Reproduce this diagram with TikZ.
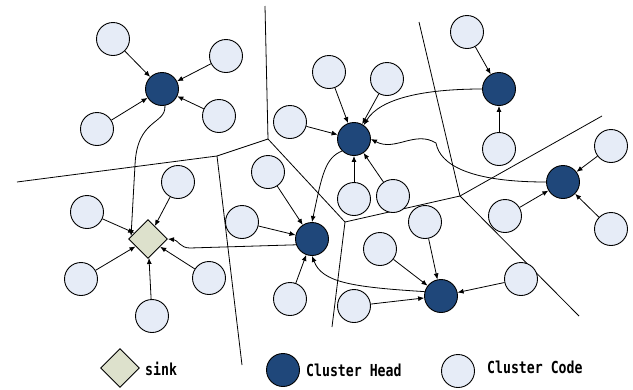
\documentclass[tikz,border=0pt]{standalone}
\usepackage{fontspec}
\newfontfamily\legfont{DejaVu Sans Mono}[FakeStretch=0.8]
\usetikzlibrary{arrows.meta,shapes.geometric}
\definecolor{chblue}{RGB}{31,71,122}
\definecolor{cnfill}{RGB}{230,236,247}
\definecolor{sinkfill}{RGB}{221,225,204}
\tikzset{
  cn/.style={circle,draw=black,fill=cnfill,line width=0.9pt,minimum size=33pt,inner sep=0pt},
  ch/.style={circle,draw=black,fill=chblue,line width=0.9pt,minimum size=33pt,inner sep=0pt},
  sinkbox/.style={diamond,draw=black,fill=sinkfill,line width=0.9pt,minimum width=39pt,minimum height=39pt,inner sep=0pt},
  arr/.style={-{Latex[length=6pt,width=5pt]},line width=0.8pt},
  border/.style={line width=0.8pt},
  legtext/.style={anchor=base west,inner sep=0pt,font=\legfont\bfseries\fontsize{16.5}{18}\selectfont}
}
\begin{document}
\begin{tikzpicture}[x=1pt,y=-1pt]
\useasboundingbox (0,0) rectangle (633,389);
% region borders
\coordinate (v1) at (17,182);
\coordinate (v2) at (217,156);
\coordinate (v3) at (268,139);
\coordinate (v4) at (265,6);
\coordinate (v5) at (242,365);
\coordinate (v6) at (345,222);
\coordinate (v7) at (460,196);
\coordinate (v8) at (602,116);
\coordinate (v9) at (332,327);
\coordinate (v10) at (419,22);
\coordinate (v11) at (579,316);
\draw[border] (v1) -- (v2) -- (v3) -- (v4);
\draw[border] (v2) -- (v5);
\draw[border] (v3) -- (v6) -- (v7) -- (v8);
\draw[border] (v6) -- (v9);
\draw[border] (v10) -- (v7) -- (v11);
% heads and sink
\node[ch] (ch1) at (162,89) {};
\node[ch] (ch2) at (312,239) {};
\node[ch] (ch3) at (354,139) {};
\node[ch] (ch4) at (499,89) {};
\node[ch] (ch5) at (563,182) {};
\node[ch] (ch6) at (441,296) {};
\node[sinkbox] (sink) at (148,239) {};
% cluster members
\node[cn] (a1) at (113,39) {};
\node[cn] (a2) at (226,56) {};
\node[cn] (a3) at (97,129) {};
\node[cn] (a4) at (219,116) {};
\node[cn] (s1) at (178,182) {};
\node[cn] (s2) at (87,212) {};
\node[cn] (s3) at (81,279) {};
\node[cn] (s4) at (152,316) {};
\node[cn] (s5) at (209,278) {};
\node[cn] (b1) at (268,172) {};
\node[cn] (b2) at (242,222) {};
\node[cn] (b3) at (290,299) {};
\node[cn] (c1) at (329,72) {};
\node[cn] (c2) at (387,79) {};
\node[cn] (c3) at (290,122) {};
\node[cn] (c4) at (354,199) {};
\node[cn] (c5) at (393,196) {};
\node[cn] (d1) at (467,32) {};
\node[cn] (d2) at (499,149) {};
\node[cn] (e1) at (611,146) {};
\node[cn] (e2) at (505,216) {};
\node[cn] (e3) at (611,229) {};
\node[cn] (f1) at (425,222) {};
\node[cn] (f2) at (380,249) {};
\node[cn] (f3) at (354,306) {};
\node[cn] (f4) at (521,279) {};
% member arrows
\foreach \m in {a1,a2,a3,a4} \draw[arr] (\m) -- (ch1);
\foreach \m in {s1,s2,s3,s4,s5} \draw[arr] (\m) -- (sink);
\foreach \m in {b1,b2,b3} \draw[arr] (\m) -- (ch2);
\foreach \m in {c1,c2,c3,c4,c5} \draw[arr] (\m) -- (ch3);
\foreach \m in {d1,d2} \draw[arr] (\m) -- (ch4);
\foreach \m in {e1,e2,e3} \draw[arr] (\m) -- (ch5);
\foreach \m in {f1,f2,f3,f4} \draw[arr] (\m) -- (ch6);
% head to head / sink
\draw[arr] (ch1.-80) .. controls (166,125) and (137,118) .. (135,165) -- (sink.170);
\draw[arr] (ch2.200) -- (190,248) .. controls (180,248) and (178,240) .. (sink.east);
\draw[arr] (ch3.225) .. controls (325,158) and (322,175) .. (ch2.north);
\draw[arr] (ch4.west) .. controls (425,89) and (380,98) .. (ch3.55);
\draw[arr] (ch5.180) .. controls (470,182) and (440,165) .. (436,143) .. controls (415,130) and (395,152) .. (ch3.east);
\draw[arr] (ch6.165) .. controls (350,287) and (322,282) .. (ch2.south);
% legend
\node[sinkbox] (legsink) at (120,368) {};
\node[legtext] (legsinkt) at (145,375) {sink};
\node[ch] (legch) at (283,370) {};
\node[legtext] (legcht) at (306,376) {Cluster Head};
\node[cn] (legcn) at (458,371) {};
\node[legtext] (legcnt) at (487,373) {Cluster Code};
\end{tikzpicture}
\end{document}
